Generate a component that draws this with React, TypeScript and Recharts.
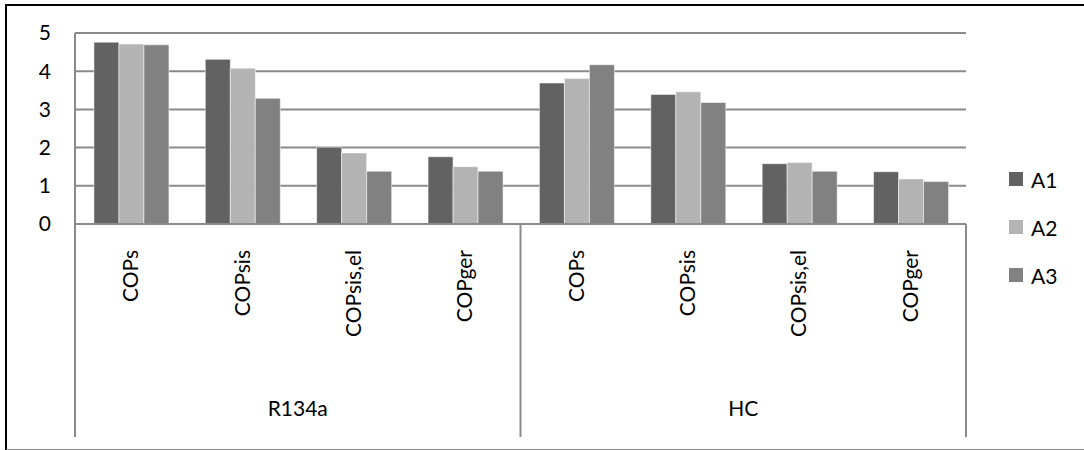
import { Bar, BarChart, CartesianGrid, Legend, XAxis, YAxis } from 'recharts';

const metrics = ['COPs', 'COPsis', 'COPsis,el', 'COPger'];
const refrigerants = ['R134a', 'HC'];
const seriesNames = ['A1', 'A2', 'A3'];
const seriesColors = ['#626262', '#b3b3b3', '#818181'];

const a1 = [4.76, 4.31, 2.01, 1.76, 3.69, 3.39, 1.58, 1.37];
const a2 = [4.71, 4.08, 1.86, 1.5, 3.81, 3.46, 1.61, 1.18];
const a3 = [4.69, 3.29, 1.38, 1.38, 4.17, 3.18, 1.38, 1.11];
const yTicks = [0, 1, 2, 3, 4, 5];

const rows = refrigerants.flatMap((ref, r) =>
  metrics.map((m, i) => {
    const k = r * metrics.length + i;
    return { key: `${ref}-${m}`, metric: m, group: ref, A1: a1[k], A2: a2[k], A3: a3[k] };
  })
);

const FONT = 'Lato, "Open Sans", sans-serif';
const FONT_SIZE = 21;
const LINE = '#8a8a8a';
const AXIS_H = 213;

// metric label rotated under each bar group, plus the refrigerant row and its separators
function CategoryTick(props: any) {
  const { x, y, payload, index, width, visibleTicksCount } = props;
  const half = payload?.offset ?? width / visibleTicksCount / 2;
  const row = rows[index];
  const n = metrics.length;
  return (
    <g>
      <text
        x={x}
        y={y + 26}
        dy="0.36em"
        transform={`rotate(-90, ${x}, ${y + 26})`}
        textAnchor="end"
        fontSize={FONT_SIZE}
        fontFamily={FONT}
        fill="#000"
      >
        {row.metric}
      </text>
      {index % n === 0 && (
        <line x1={x - half} x2={x - half} y1={y} y2={y + AXIS_H} stroke={LINE} strokeWidth={2} />
      )}
      {index === rows.length - 1 && (
        <line x1={x + half} x2={x + half} y1={y} y2={y + AXIS_H} stroke={LINE} strokeWidth={2} />
      )}
      {index % n === 1 && (
        <text x={x + half} y={y + 192} textAnchor="middle" fontSize={FONT_SIZE} fontFamily={FONT} fill="#000">
          {row.group}
        </text>
      )}
    </g>
  );
}

function SeriesLegend() {
  return (
    <div style={{ fontFamily: FONT, fontSize: FONT_SIZE, color: '#000' }}>
      {seriesNames.map((name, i) => (
        <div key={name} style={{ display: 'flex', alignItems: 'center', height: 48 }}>
          <span style={{ width: 14, height: 14, background: seriesColors[i], marginRight: 8 }} />
          <span>{name}</span>
        </div>
      ))}
    </div>
  );
}

export default function App() {
  return (
    <div style={{ position: 'absolute', left: 0, top: 0, width: 1084, height: 450, background: '#fff' }}>
      <div
        style={{
          position: 'absolute',
          left: 5,
          top: 4,
          width: 1100,
          height: 443,
          borderTop: '2px solid #000',
          borderLeft: '2px solid #000',
          borderBottom: '2px solid #8a8a8a',
        }}
      />
      <BarChart
        width={1084}
        height={450}
        data={rows}
        margin={{ top: 33, right: 118, left: 15, bottom: 13 }}
        barCategoryGap="17%"
        barGap={0}
        style={{ position: 'absolute', left: 0, top: 0 }}
      >
        <CartesianGrid vertical={false} stroke={LINE} strokeWidth={2} />
        <XAxis
          dataKey="key"
          interval={0}
          height={AXIS_H}
          tickLine={false}
          tickSize={0}
          tickMargin={0}
          axisLine={{ stroke: LINE, strokeWidth: 2 }}
          tick={<CategoryTick />}
        />
        <YAxis
          width={60}
          domain={[0, 5]}
          ticks={yTicks}
          interval={0}
          tickLine={false}
          tickSize={0}
          tickMargin={24}
          axisLine={{ stroke: LINE, strokeWidth: 2 }}
          tick={{ fontSize: FONT_SIZE, fontFamily: FONT, fill: '#000' }}
        />
        <Legend
          layout="vertical"
          align="center"
          verticalAlign="middle"
          content={<SeriesLegend />}
          wrapperStyle={{ left: 1009, top: 155, width: 70 }}
        />
        {seriesNames.map((name, i) => (
          <Bar
            key={name}
            dataKey={name}
            fill={seriesColors[i]}
            stroke="#ffffff"
            strokeOpacity={0.5}
            strokeWidth={1}
            isAnimationActive={false}
          />
        ))}
      </BarChart>
    </div>
  );
}
